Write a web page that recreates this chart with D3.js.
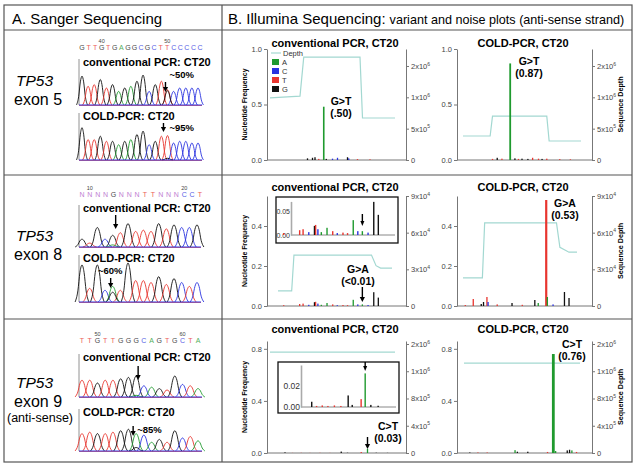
<!doctype html>
<html>
<head>
<meta charset="utf-8" />
<title>TP53 Sanger / Illumina</title>
<script src="https://cdn.jsdelivr.net/npm/d3@7"></script>
<style>
  html,body{margin:0;padding:0;background:#fff;}
  svg{display:block;font-family:"Liberation Sans",Arial,sans-serif;}
</style>
</head>
<body>
<script>
// ---- colours per base
var baseColor = {A:"#1f9a2e", C:"#2a33e0", T:"#e8352f", G:"#111111", N:"#b060c8"};
var depthColor = "#a3d8d1";

// ---- panel A : sanger traces (peak base, peak height 0..1)
var ex5Letters = "GTTGTGAGGCGCTTCCCCC";
var ex5Nums = [[3,"40"],[13,"50"]];
var ex5ConvBases = "GTTGTGAGAGGCGTTCCCCC";
var ex5ConvHeights = [.85,.55,.6,.75,.5,.6,.4,.5,.55,.7,.88,.4,.6,.7,.45,.4,.5,.5,.5,.5];
var ex5ConvMixed = [[14,"G",.42]];
var ex5ColdHeights = [.95,.6,.6,.7,.55,.55,.45,.55,.6,.75,.85,.45,.55,.7,.72,.5,.55,.55,.5,.5];
var ex5ColdMixed = [[14,"G",.05]];

var ex8Letters = "NNNNGNNNTTNNNCCT";
var ex8Nums = [[1,"10"],[13,"20"]];
var ex8ConvBases = "GTGCGTGTTTGTGCCG";
var ex8ConvHeights = [.3,.15,.75,.3,.45,.55,.9,.6,.65,.6,.9,.7,.85,.75,.75,.85];
var ex8ConvMixed = [[4,"A",.08]];
var ex8ColdBases = "GTGCATGTTTGTGCTC";
var ex8ColdHeights = [.95,.35,.95,.3,.4,.3,1,.55,.55,.5,.65,.45,.6,.5,.4,.5];
var ex8ColdMixed = [[4,"G",.25]];

var ex9Letters = "TTGTTGGGCAGTGCTA";
var ex9Nums = [[2,"50"],[13,"60"]];
var ex9ConvBases = "TTGTTGGGCAGTGCTA";
var ex9ConvHeights = [.6,.6,.5,.6,.6,.65,.7,.75,.4,.35,.3,.25,.75,.45,.4,.3];
var ex9ConvMixed = [[7,"A",.06]];
var ex9ColdBases = "TTGTTGGACAGTGCTA";
var ex9ColdHeights = [.6,.65,.6,.6,.65,.7,.75,.6,.55,.3,.4,.3,.7,.45,.5,.35];
var ex9ColdMixed = [[7,"G",.12]];

// ---- panel B : depth steps [position, depth] and bars [position, base, frequency]
var ex5ConvDepth = [[0,9.9e5],[24,1.02e6],[27,1.64e6],[72,1.64e6],[74,6.7e5],[100,6.7e5]];
var ex5ColdDepth = [[0,3.83e5],[23,3.83e5],[25,7.0e5],[71,7.0e5],[73,3.03e5],[100,3.03e5]];
var ex8ConvDepth = [[0,1.23e4],[12,1.23e4],[14,4.17e4],[82,4.17e4],[86,3.3e4],[90,3.1e4],[100,3.1e4]];
var ex8ColdDepth = [[0,2.3e4],[17,2.3e4],[19,6.8e4],[82,6.8e4],[85,4.8e4],[93,4.4e4],[100,4.4e4]];
var ex9ConvDepth = [[0,1.48e6],[100,1.48e6]];
var ex9ColdDepth = [[0,1.32e6],[100,1.32e6]];

var ex5ConvBars = [[30,"G",0.015],[34,"G",0.02],[36,"G",0.025],[39,"T",0.01],[43,"A",0.48],[45,"G",0.01],
  [50,"C",0.012],[54,"C",0.02],[62,"G",0.025],[63,"C",0.015],[70,"T",0.008],[80,"T",0.006]];
var ex5ColdBars = [[25,"T",0.01],[29,"G",0.02],[33,"T",0.012],[40,"A",0.87],[44,"G",0.015],[47,"T",0.01],
  [50,"G",0.012],[55,"G",0.01],[59,"T",0.02],[64,"T",0.012],[67,"G",0.01],[71,"T",0.012],[82,"T",0.008],[91,"T",0.006]];
var ex8ConvBars = [[5,"T",0.004],[19,"T",0.01],[22,"T",0.012],[27,"C",0.006],[32,"G",0.019],[33,"T",0.021],
  [35,"C",0.012],[38,"A",0.006],[43,"A",0.015],[48,"T",0.008],[52,"C",0.004],[57,"T",0.005],[61,"T",0.004],
  [66,"A",0.031],[70,"C",0.008],[74,"A",0.008],[79,"C",0.005],[84,"G",0.069],[88,"G",0.042]];
var ex8ColdBars = [[2,"T",0.005],[9,"T",0.035],[16,"G",0.01],[18,"G",0.02],[21,"T",0.045],[22,"C",0.02],
  [30,"T",0.008],[43,"G",0.015],[52,"T",0.006],[63,"G",0.03],[66,"A",0.015],[73,"T",0.53],[74,"A",0.045],
  [79,"C",0.008],[89,"G",0.07],[93,"G",0.04]];
var ex9ConvBars = [[12,"G",0.005],[18,"T",0.001],[25,"T",0.0015],[32,"T",0.001],[40,"T",0.0015],[48,"T",0.001],
  [57,"G",0.011],[62,"G",0.002],[73,"T",0.0075],[78,"A",0.032],[85,"G",0.002],[94,"G",0.0012]];
var ex9ColdBars = [[5,"G",0.004],[12,"T",0.004],[20,"T",0.004],[44,"A",0.022],[46,"G",0.01],[55,"G",0.01],
  [72,"T",0.008],[77,"A",0.76],[79,"A",0.015],[89,"G",0.02],[91,"G",0.025],[93,"A",0.02],[97,"T",0.008]];

// axis ticks
var ex5FreqTicks = [0,0.5,1];
var ex8FreqTicks = [0,0.2,0.4];
var ex9FreqTicks = [0,0.4,0.8];
var ex5DepthTicks = [0,5e5,1e6,1.5e6];
var ex5DepthLabels = ["0","5x10^5","1x10^6","2x10^6"];
var ex8DepthTicks = [0,3e4,6e4,9e4];
var ex8DepthLabels = ["0","3x10^4","6x10^4","9x10^4"];
var ex9DepthTicks = [0,4e5,8e5,1.2e6,1.6e6];
var ex9DepthLabels = ["0","4x10^5","8x10^5","1x10^6","2x10^6"];
var legendBases = ["A","C","T","G"];

var svg = d3.select("body").append("svg").attr("width",637).attr("height",468);

// ---- frame
var lineCol = "#555";
svg.append("rect").attr("x",4).attr("y",5).attr("width",628).attr("height",457)
  .attr("fill","none").attr("stroke",lineCol).attr("stroke-width",1.2);
[30,175,319].forEach(function(y){
  svg.append("line").attr("x1",4).attr("x2",632).attr("y1",y).attr("y2",y).attr("stroke",lineCol).attr("stroke-width",1.2);
});
svg.append("line").attr("x1",222).attr("x2",222).attr("y1",5).attr("y2",462).attr("stroke",lineCol).attr("stroke-width",1.2);

svg.append("text").attr("x",12).attr("y",24).attr("font-size",15).text("A. Sanger Sequencing");
var hb = svg.append("text").attr("x",228).attr("y",24).attr("font-size",15).text("B. Illumina Sequencing:");
hb.append("tspan").attr("font-size",12.6).attr("dx",4).text("variant and noise plots (anti-sense strand)");

// ---- panel A row labels
function rowLabel(y, exon, extra){
  svg.append("text").attr("x",16).attr("y",y).attr("font-size",15.5).attr("font-style","italic").text("TP53");
  svg.append("text").attr("x",14).attr("y",y+19).attr("font-size",16).text(exon);
  if(extra) svg.append("text").attr("x",7).attr("y",y+34).attr("font-size",12.5).text(extra);
}
rowLabel(86,"exon 5");
rowLabel(241,"exon 8");
rowLabel(388,"exon 9","(anti-sense)");

function downArrow(g, x, y1, y2, w){
  w = w || 2.6;
  g.append("line").attr("x1",x).attr("x2",x).attr("y1",y1).attr("y2",y2-4).attr("stroke","#000").attr("stroke-width",1.4);
  g.append("path").attr("d","M"+(x-w)+","+(y2-5)+"L"+(x+w)+","+(y2-5)+"L"+x+","+y2+"Z").attr("fill","#000");
}

var peakShape = d3.line().x(function(p){return p[0];}).y(function(p){return p[1];}).curve(d3.curveMonotoneX);

function trace(bases, heights, mixed, xr, yr, labelTxt, labelY){
  var g = svg.append("g");
  var x = d3.scaleLinear().domain([0,bases.length-1]).range(xr);
  var y = d3.scaleLinear().domain([0,1]).range(yr);
  var w = (xr[1]-xr[0])/(bases.length-1)*0.9;
  var peaks = bases.split("").map(function(b,i){return {i:i,b:b,h:heights[i]};})
    .concat(mixed.map(function(m){return {i:m[0],b:m[1],h:m[2]};}));
  // left axis of the trace
  g.append("line").attr("x1",79).attr("x2",79).attr("y1",labelY-7).attr("y2",yr[0]).attr("stroke","#777").attr("stroke-width",0.8);
  g.selectAll("path.pk").data(peaks).join("path").attr("class","pk")
    .attr("d",function(p){
      var cx = x(p.i), top = y(p.h), b = yr[0], d = b-top;
      return peakShape([[cx-w,b],[cx-w*0.6,b-d*0.3],[cx-w*0.3,b-d*0.8],[cx,top],
                        [cx+w*0.3,b-d*0.8],[cx+w*0.6,b-d*0.3],[cx+w,b]]);
    })
    .attr("fill","none").attr("stroke",function(p){return baseColor[p.b];}).attr("stroke-width",0.9);
  g.append("line").attr("x1",79).attr("x2",xr[1]+4).attr("y1",yr[0]+0.5).attr("y2",yr[0]+0.5).attr("stroke",baseColor.T).attr("stroke-width",0.7);
  g.append("line").attr("x1",79).attr("x2",xr[1]+4).attr("y1",yr[0]).attr("y2",yr[0]).attr("stroke",baseColor.C).attr("stroke-width",1);
  g.append("text").attr("x",83).attr("y",labelY).attr("font-size",11).attr("font-weight","bold").text(labelTxt);
  return x;
}

function seqLine(letters, nums, xr, y){
  var x = d3.scaleLinear().domain([0,letters.length-1]).range(xr);
  var g = svg.append("g").attr("font-size",7);
  g.selectAll("text.l").data(letters.split("")).join("text").attr("class","l")
    .attr("x",function(d,i){return x(i);}).attr("y",y).attr("text-anchor","middle")
    .attr("fill",function(d){return baseColor[d];}).attr("opacity",0.8).text(function(d){return d;});
  g.selectAll("text.n").data(nums).join("text").attr("class","n")
    .attr("x",function(d){return x(d[0]);}).attr("y",y-7).attr("text-anchor","middle")
    .attr("font-size",5.5).attr("fill","#444").text(function(d){return d[1];});
}

function pctLabel(x, y, txt){
  svg.append("text").attr("x",x).attr("y",y).attr("font-size",9.5).attr("font-weight","bold").text(txt);
}

// exon 5
seqLine(ex5Letters, ex5Nums, [82,200], 50);
var tx = trace(ex5ConvBases, ex5ConvHeights, ex5ConvMixed, [82,198], [105,71], "conventional PCR: CT20", 66);
downArrow(svg, tx(14)-2, 82, 92); pctLabel(tx(14)+2, 78, "~50%");
tx = trace(ex5ConvBases, ex5ColdHeights, ex5ColdMixed, [82,198], [160,126], "COLD-PCR: CT20", 120);
downArrow(svg, tx(14)-4, 123, 132); pctLabel(tx(14)+2, 131, "~95%");

// exon 8
seqLine(ex8Letters, ex8Nums, [82,200], 197);
tx = trace(ex8ConvBases, ex8ConvHeights, ex8ConvMixed, [82,197], [247,221], "conventional PCR: CT20", 212);
downArrow(svg, tx(4)+3, 215, 229);
tx = trace(ex8ColdBases, ex8ColdHeights, ex8ColdMixed, [82,197], [302,263], "COLD-PCR: CT20", 262);
pctLabel(98, 274, "~60%"); downArrow(svg, tx(4)-2, 278, 288);

// exon 9
seqLine(ex9Letters, ex9Nums, [82,198], 343);
tx = trace(ex9ConvBases, ex9ConvHeights, ex9ConvMixed, [82,198], [397,369], "conventional PCR: CT20", 361);
downArrow(svg, tx(7)+2, 366, 380);
tx = trace(ex9ColdBases, ex9ColdHeights, ex9ColdMixed, [82,198], [451,422], "COLD-PCR: CT20", 416);
downArrow(svg, tx(7)-3, 426, 436); pctLabel(tx(7)+1, 433, "~85%");

// ---- panel B
function supLabel(t, lab){
  var parts = lab.split("^");
  t.text(parts[0]);
  if(parts[1]) t.append("tspan").attr("dy",-3.2).attr("font-size",5).text(parts[1]);
}

function styleAxis(a){
  a.select(".domain").attr("stroke","#777");
  a.selectAll(".tick line").attr("stroke","#777");
  a.selectAll(".tick text").attr("fill","#444").attr("font-size",7.5);
  a.attr("font-family",null);
}

function variantPlot(o){
  var g = svg.append("g");
  var y = d3.scaleLinear().domain([0,o.fMax]).range([o.yBot,o.yTop]);
  var yd = d3.scaleLinear().domain([0,o.dMax]).range([o.yBot,o.yTop]);
  var x = d3.scaleLinear().domain([0,100]).range(o.dx);
  g.append("line").attr("x1",o.xl).attr("x2",o.xr).attr("y1",o.yBot).attr("y2",o.yBot).attr("stroke","#777");
  var la = g.append("g").attr("transform","translate("+o.xl+",0)")
    .call(d3.axisLeft(y).tickValues(o.fTicks).tickFormat(d3.format(".1f")).tickSize(3).tickSizeOuter(0).tickPadding(2));
  styleAxis(la);
  var ra = g.append("g").attr("transform","translate("+o.xr+",0)")
    .call(d3.axisRight(yd).tickValues(o.dTicks).tickSize(3).tickSizeOuter(0).tickPadding(2));
  styleAxis(ra);
  ra.selectAll(".tick text").each(function(d,i){ supLabel(d3.select(this), o.dLabels[i]); });
  g.append("path").datum(o.depth)
    .attr("d", d3.line().x(function(d){return x(d[0]);}).y(function(d){return yd(d[1]);}))
    .attr("fill","none").attr("stroke",depthColor).attr("stroke-width",1.2);
  // spikes keep their width, noise bars are thinner
  g.selectAll("rect.bar").data(o.bars).join("rect").attr("class","bar")
    .attr("x",function(d){var bw = d[2] > 0.1 ? o.barW : 1.3; return x(d[0])-bw/2;})
    .attr("width",function(d){return d[2] > 0.1 ? o.barW : 1.3;})
    .attr("y",function(d){return y(d[2]);}).attr("height",function(d){return o.yBot-y(d[2]);})
    .attr("fill",function(d){return baseColor[d[1]];});
  g.append("text").attr("x",o.titleX).attr("y",o.titleY).attr("text-anchor","middle")
    .attr("font-size",11).attr("font-weight","bold").text(o.title);
  var ann = g.append("text").attr("text-anchor","middle").attr("font-size",10.5).attr("font-weight","bold");
  ann.append("tspan").attr("x",o.ann[0]).attr("y",o.ann[1]).text(o.ann[2]);
  ann.append("tspan").attr("x",o.ann[0]).attr("y",o.ann[1]+12).text(o.ann[3]);
  if(o.side === "L"){
    g.append("text").attr("transform","translate(247,"+((o.yTop+o.yBot)/2)+") rotate(-90)")
      .attr("text-anchor","middle").attr("font-size",7.8).attr("font-weight","bold")
      .attr("textLength",72).attr("lengthAdjust","spacingAndGlyphs").text("Nucleotide Frequency");
  } else {
    g.append("text").attr("transform","translate(623,"+((o.yTop+o.yBot)/2)+") rotate(-90)")
      .attr("text-anchor","middle").attr("font-size",7.8).attr("font-weight","bold")
      .attr("textLength",56).attr("lengthAdjust","spacingAndGlyphs").text("Sequence Depth");
  }
  return {x:x, y:y, g:g};
}

function inset(o){
  var g = svg.append("g");
  g.append("rect").attr("x",o.box[0]).attr("y",o.box[1]).attr("width",o.box[2]).attr("height",o.box[3])
    .attr("fill","#fff").attr("stroke","#111").attr("stroke-width",1.3);
  var y = d3.scaleLinear().domain([0,o.fMax]).range([o.y0,o.y0-o.fMax*o.k]);
  g.append("line").attr("x1",o.ax).attr("x2",o.box[0]+o.box[2]-3).attr("y1",o.y0).attr("y2",o.y0).attr("stroke","#888");
  var a = g.append("g").attr("transform","translate("+o.ax+",0)")
    .call(d3.axisLeft(y).tickValues(o.ticks).tickFormat(d3.format(".2f")).tickSize(0).tickSizeOuter(0).tickPadding(1));
  a.select(".domain").attr("stroke","#aaa").attr("stroke-width",1.6);
  a.selectAll(".tick text").attr("fill","#333").attr("font-size",o.fs);
  a.attr("font-family",null);
  g.selectAll("rect.bar").data(o.bars).join("rect").attr("class","bar")
    .attr("x",function(d){return o.x(d[0])-0.7;}).attr("width",1.4)
    .attr("y",function(d){return y(d[2]);}).attr("height",function(d){return o.y0-y(d[2]);})
    .attr("fill",function(d){return baseColor[d[1]];});
  downArrow(g, o.x(o.arrow[0]), o.arrow[1], o.arrow[2], 2);
}

// exon 5
var p = variantPlot({side:"L", xl:267, xr:406, yTop:49, yBot:160, dx:[270,395], fMax:1, fTicks:ex5FreqTicks,
  dMax:1.771e6, dTicks:ex5DepthTicks, dLabels:ex5DepthLabels, depth:ex5ConvDepth, bars:ex5ConvBars, barW:1.6,
  title:"conventional PCR, CT20", titleX:335, titleY:47, ann:[341,105,"G>T","(.50)"]});
// legend
var lg = svg.append("g").attr("font-size",7.5).attr("fill","#333");
lg.append("line").attr("x1",271).attr("x2",281).attr("y1",53).attr("y2",53).attr("stroke",depthColor).attr("stroke-width",1.2);
lg.append("text").attr("x",283).attr("y",56).text("Depth");
lg.selectAll("rect").data(legendBases).join("rect")
  .attr("x",272).attr("y",function(d,i){return 59+i*9;}).attr("width",7).attr("height",6)
  .attr("fill",function(d){return baseColor[d];});
lg.selectAll("text.b").data(legendBases).join("text").attr("class","b")
  .attr("x",282).attr("y",function(d,i){return 65+i*9;}).text(function(d){return d;});

variantPlot({side:"R", xl:457, xr:592, yTop:49, yBot:160, dx:[463,581], fMax:1, fTicks:ex5FreqTicks,
  dMax:1.771e6, dTicks:ex5DepthTicks, dLabels:ex5DepthLabels, depth:ex5ColdDepth, bars:ex5ColdBars, barW:1.8,
  title:"COLD-PCR, CT20", titleX:523, titleY:47, ann:[529,65,"G>T","(0.87)"]});

// exon 8
p = variantPlot({side:"L", xl:267, xr:406, yTop:196, yBot:306, dx:[278,392], fMax:0.55, fTicks:ex8FreqTicks,
  dMax:9e4, dTicks:ex8DepthTicks, dLabels:ex8DepthLabels, depth:ex8ConvDepth, bars:ex8ConvBars, barW:1.8,
  title:"conventional PCR, CT20", titleX:335, titleY:191, ann:[358,273,"G>A","(<0.01)"]});
downArrow(svg, p.x(74), 287, 302);
inset({box:[276,197,122,46], ax:291, y0:235, k:480, fMax:0.07, ticks:[0,0.05], fs:7,
  x:p.x, bars:ex8ConvBars, arrow:[74,214,226]});

variantPlot({side:"R", xl:457, xr:592, yTop:196, yBot:306, dx:[463,577], fMax:0.55, fTicks:ex8FreqTicks,
  dMax:9e4, dTicks:ex8DepthTicks, dLabels:ex8DepthLabels, depth:ex8ColdDepth, bars:ex8ColdBars, barW:2.2,
  title:"COLD-PCR, CT20", titleX:523, titleY:191, ann:[565,207,"G>A","(0.53)"]});

// exon 9
p = variantPlot({side:"L", xl:267, xr:406, yTop:341, yBot:453, dx:[270,395], fMax:0.86, fTicks:ex9FreqTicks,
  dMax:1.644e6, dTicks:ex9DepthTicks, dLabels:ex9DepthLabels, depth:ex9ConvDepth, bars:ex9ConvBars, barW:2.2,
  title:"conventional PCR, CT20", titleX:335, titleY:333, ann:[388,430,"C>T","(0.03)"]});
downArrow(svg, p.x(78), 437, 449);
inset({box:[278,362,121,51], ax:301, y0:407, k:1050, fMax:0.04, ticks:[0,0.02], fs:8.5,
  x:d3.scaleLinear().domain([0,100]).range([302,383]), bars:ex9ConvBars, arrow:[78,362,371]});

variantPlot({side:"R", xl:457, xr:592, yTop:341, yBot:453, dx:[464,580], fMax:0.86, fTicks:ex9FreqTicks,
  dMax:1.644e6, dTicks:ex9DepthTicks, dLabels:ex9DepthLabels, depth:ex9ColdDepth, bars:ex9ColdBars, barW:2.8,
  title:"COLD-PCR, CT20", titleX:523, titleY:333, ann:[572,348,"C>T","(0.76)"]});
</script>
</body>
</html>
